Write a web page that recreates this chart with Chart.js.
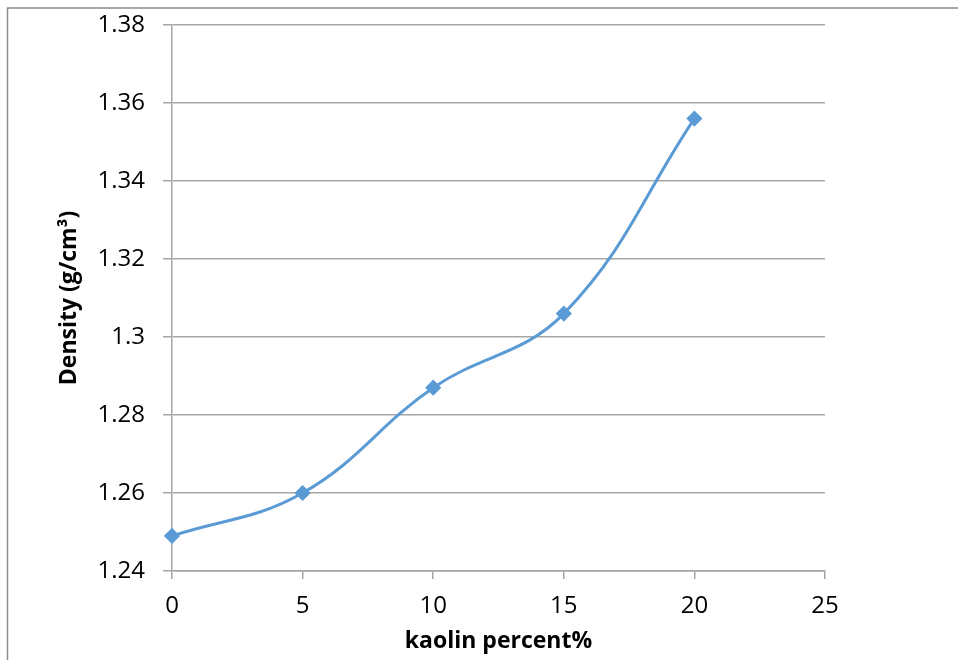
<!DOCTYPE html>
<html>
<head>
  <meta charset="utf-8" />
  <title>Density vs kaolin percent</title>
  <script src="https://cdn.jsdelivr.net/npm/chart.js"></script>
  <style>
    body {
      background: white;
      margin: 0;
    }
    #wrap {
      width: 958px;
      height: 660px;
    }
  </style>
</head>
<body>

  <div id="wrap">
    <canvas id="densityChart" width="958" height="660"></canvas>
  </div>

  <script>
    // values
    const kaolinPercent = [0, 5, 10, 15, 20];
    const density = [1.249, 1.26, 1.287, 1.306, 1.356];
    const xTicks = [0, 5, 10, 15, 20, 25];
    const yTicks = [1.24, 1.26, 1.28, 1.3, 1.32, 1.34, 1.36, 1.38];

    const fontFamily = "'Open Sans', 'Noto Sans', sans-serif";
    const gridColor = '#a6a6a6';

    // the outer frame of the original picture (top and left edge only)
    const framePlugin = {
      id: 'frame',
      afterDraw(chart) {
        const c = chart.ctx;
        c.save();
        c.strokeStyle = '#8c8c8c';
        c.lineWidth = 1.5;
        c.beginPath();
        c.moveTo(7.5, 660);
        c.lineTo(7.5, 8);
        c.lineTo(958, 8);
        c.stroke();
        c.restore();
      }
    };

    const ctx = document.getElementById('densityChart').getContext('2d');
    new Chart(ctx, {
      type: 'scatter',
      data: {
        datasets: [{
          label: 'Density',
          data: kaolinPercent.map((x, i) => ({ x: x, y: density[i] })),
          showLine: true,
          clip: false,
          borderColor: '#5b9bd5',
          backgroundColor: '#5b9bd5',
          borderWidth: 3,
          pointStyle: 'rectRot',
          pointRadius: 6,
          pointHoverRadius: 6,
          tension: 0.4
        }]
      },
      options: {
        responsive: false,
        animation: false,
        layout: {
          padding: { left: 56, right: 133, top: 25, bottom: 0 }
        },
        plugins: {
          legend: { display: false },
          tooltip: { enabled: false }
        },
        scales: {
          x: {
            type: 'linear',
            min: 0,
            max: 25,
            afterBuildTicks(scale) {
              scale.ticks = xTicks.map(v => ({ value: v }));
            },
            afterFit(scale) {
              scale.height = 89;
              scale.paddingLeft = 0;
              scale.paddingRight = 0;
            },
            grid: {
              display: true,
              drawOnChartArea: false,
              drawTicks: true,
              tickLength: 8,
              color: gridColor,
              lineWidth: 1.5
            },
            border: { display: true, color: gridColor, width: 1.5 },
            ticks: {
              color: '#000',
              font: { family: fontFamily, size: 24 },
              padding: 13,
              maxRotation: 0
            },
            title: {
              display: true,
              text: 'kaolin percent%',
              color: '#000',
              font: { family: fontFamily, size: 23, weight: 'bold' },
              padding: { top: 0, bottom: 5 }
            }
          },
          y: {
            min: 1.24,
            max: 1.38,
            afterBuildTicks(scale) {
              scale.ticks = yTicks.map(v => ({ value: v }));
            },
            afterFit(scale) {
              scale.width = 116;
              scale.paddingTop = 0;
              scale.paddingBottom = 0;
            },
            grid: {
              color: gridColor,
              lineWidth: 1.5,
              tickLength: 9
            },
            border: { display: true, color: gridColor, width: 1.5 },
            ticks: {
              color: '#000',
              font: { family: fontFamily, size: 24 },
              padding: 18,
              callback: v => String(Math.round(v * 100) / 100)
            },
            title: {
              display: true,
              text: 'Density (g/cm³)',
              color: '#000',
              font: { family: fontFamily, size: 23, weight: 'bold' },
              padding: { top: 0, bottom: 4 }
            }
          }
        }
      },
      plugins: [framePlugin]
    });
  </script>

</body>
</html>
